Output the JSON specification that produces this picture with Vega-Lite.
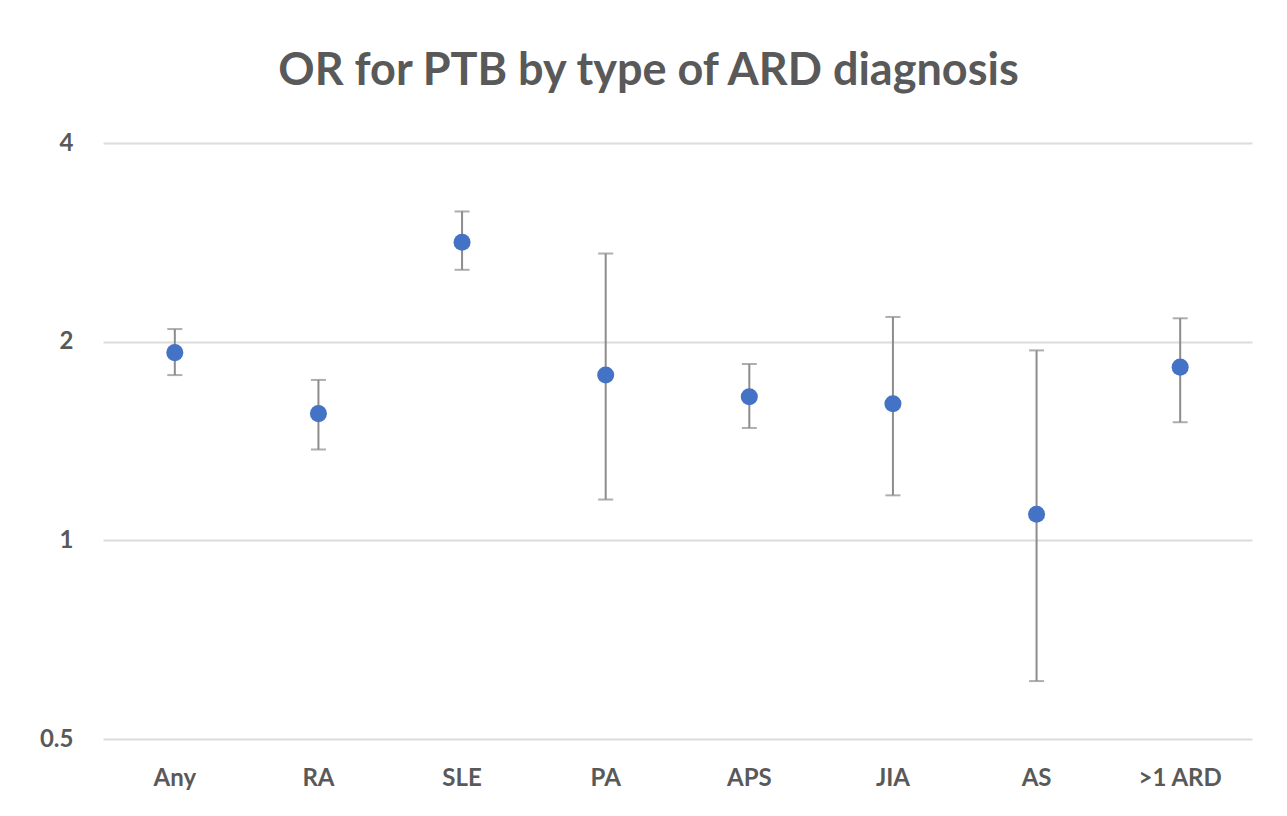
{
  "$schema": "https://vega.github.io/schema/vega-lite/v6.json",
  "width": 1149,
  "height": 596,
  "autosize": {"type": "none"},
  "padding": {"left": 103, "top": 143, "right": 35, "bottom": 77},
  "background": "white",
  "view": {"stroke": null},
  "title": {
    "text": "OR for PTB by type of ARD diagnosis",
    "font": "Lato",
    "fontSize": 45,
    "fontWeight": "bold",
    "color": "#595959",
    "anchor": "middle",
    "dx": -29,
    "offset": 37
  },
  "data": {
    "values": [
      {"type": "Any", "or": 1.925, "lo": 1.78, "hi": 2.09},
      {"type": "RA", "or": 1.556, "lo": 1.373, "hi": 1.75},
      {"type": "SLE", "or": 2.83, "lo": 2.57, "hi": 3.15},
      {"type": "PA", "or": 1.78, "lo": 1.153, "hi": 2.72},
      {"type": "APS", "or": 1.65, "lo": 1.48, "hi": 1.85},
      {"type": "JIA", "or": 1.61, "lo": 1.17, "hi": 2.18},
      {"type": "AS", "or": 1.095, "lo": 0.612, "hi": 1.94},
      {"type": ">1 ARD", "or": 1.83, "lo": 1.51, "hi": 2.17}
    ]
  },
  "encoding": {
    "x": {
      "field": "type",
      "type": "nominal",
      "sort": null,
      "scale": {"paddingInner": 0, "paddingOuter": 0},
      "axis": {
        "title": null,
        "labelAngle": 0,
        "labelFont": "Lato",
        "labelFontSize": 24,
        "labelFontWeight": "bold",
        "labelColor": "#595959",
        "labelPadding": 27,
        "domain": false,
        "ticks": false,
        "grid": false
      }
    }
  },
  "layer": [
    {
      "mark": {"type": "rule", "color": "#8c8c8c", "strokeWidth": 2},
      "encoding": {
        "y": {
          "field": "lo",
          "type": "quantitative",
          "scale": {"type": "log", "base": 2, "domain": [0.5, 4], "nice": false},
          "axis": {
            "title": null,
            "values": [0.5, 1, 2, 4],
            "format": "~g",
            "labelFont": "Lato",
            "labelFontSize": 24,
            "labelFontWeight": "bold",
            "labelColor": "#595959",
            "labelPadding": 30,
            "domain": false,
            "ticks": false,
            "gridColor": "#dcdcdc",
            "gridWidth": 2
          }
        },
        "y2": {"field": "hi"}
      }
    },
    {
      "mark": {"type": "tick", "color": "#8c8c8c", "size": 15, "thickness": 2},
      "encoding": {"y": {"field": "lo", "type": "quantitative"}}
    },
    {
      "mark": {"type": "tick", "color": "#8c8c8c", "size": 15, "thickness": 2},
      "encoding": {"y": {"field": "hi", "type": "quantitative"}}
    },
    {
      "mark": {"type": "circle", "color": "#4472C4", "size": 290, "opacity": 1},
      "encoding": {"y": {"field": "or", "type": "quantitative"}}
    }
  ]
}
